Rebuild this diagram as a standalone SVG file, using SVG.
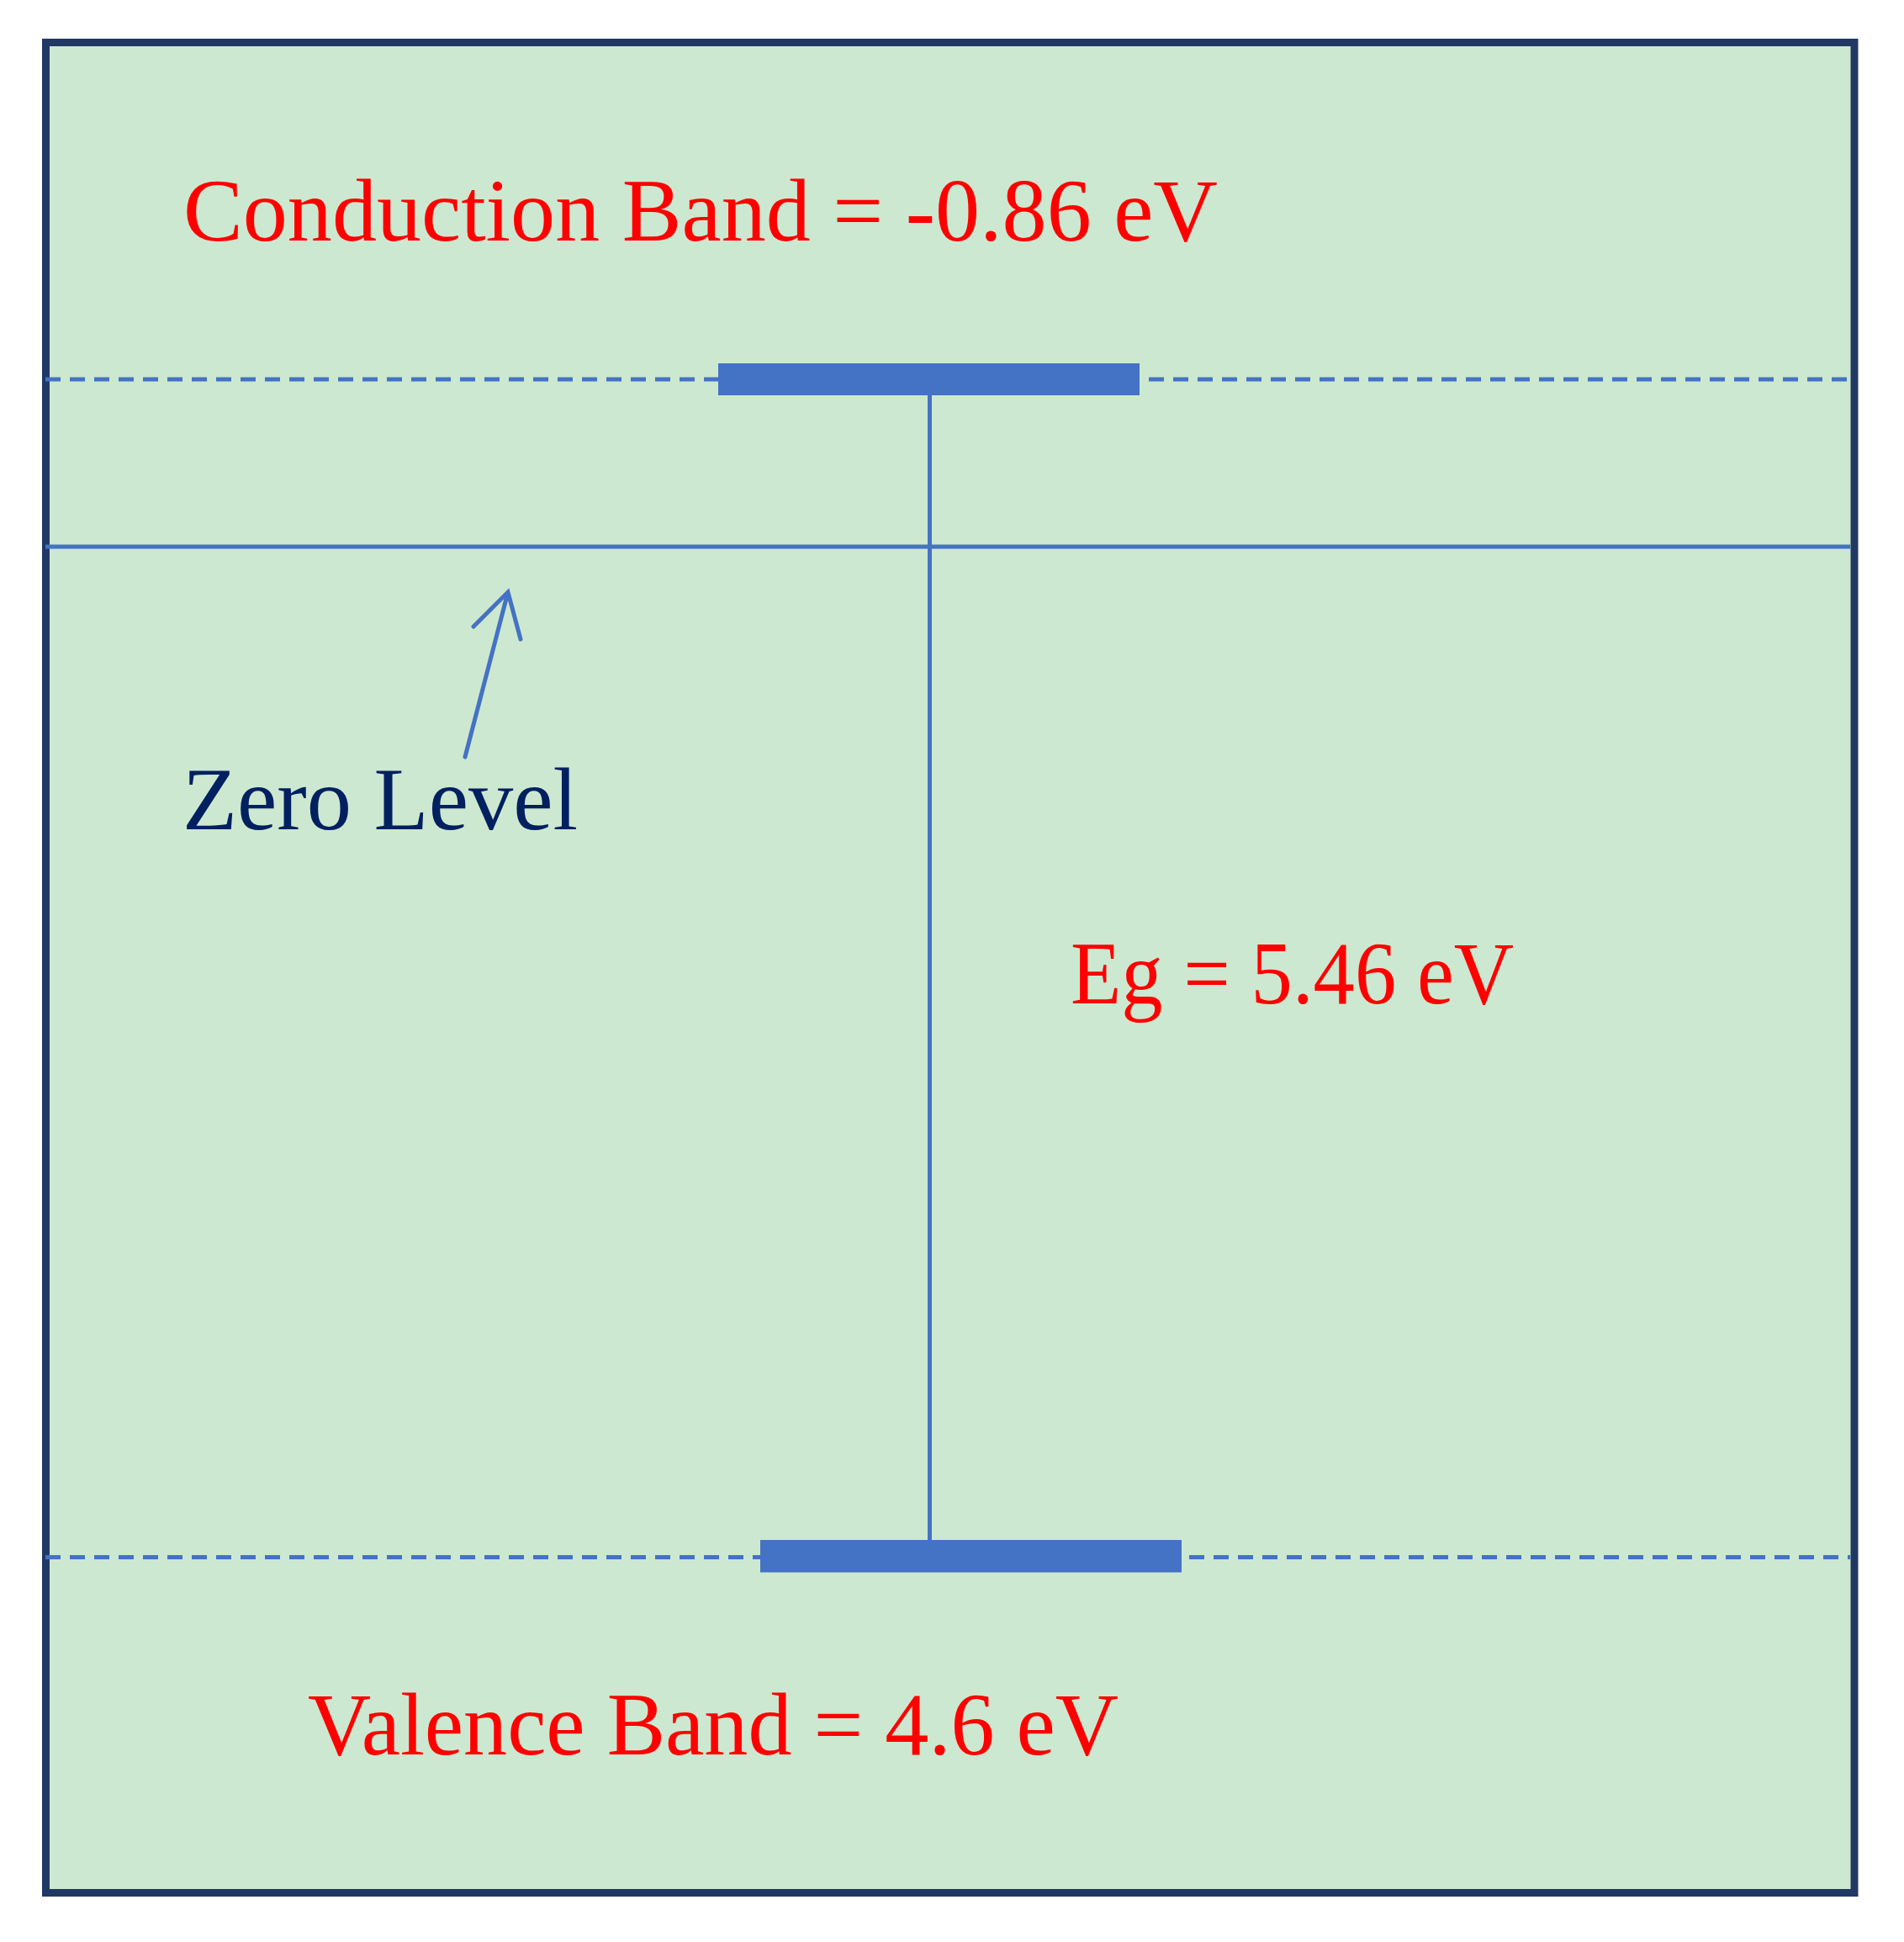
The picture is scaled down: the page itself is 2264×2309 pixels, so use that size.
<svg xmlns="http://www.w3.org/2000/svg" width="2264" height="2309" viewBox="0 0 2264 2309">
<style>
.lbl{font-family:"Liberation Serif","Times New Roman",serif;font-size:105px}
.red{fill:#FF0000}
.navy{fill:#002060}
.ln{stroke:#4472C4;stroke-width:5;fill:none}
.dash{stroke:#4472C4;stroke-width:5;stroke-dasharray:18 11;fill:none}
.bar{fill:#4472C4}
</style>
<rect width="2264" height="2309" fill="#FFFFFF"/>
<g id="frame">
<rect x="54.5" y="50.5" width="2150.5" height="2200" fill="#CDE8D0" stroke="#203864" stroke-width="9"/>
</g>
<g id="connectors">
<line class="dash" x1="54" y1="451" x2="854" y2="451"/>
<line class="dash" x1="1366" y1="451" x2="2200" y2="451"/>
<line class="dash" x1="54" y1="1851.5" x2="904" y2="1851.5"/>
<line class="dash" x1="1414" y1="1851.5" x2="2200" y2="1851.5"/>
<line class="ln" x1="54" y1="650" x2="2200" y2="650"/>
<line class="ln" x1="1105.5" y1="470" x2="1105.5" y2="1831"/>
<path class="ln" d="M553 900 L604 704 M563 745 L604 704 L619 760" stroke-width="4.5" stroke-linecap="round" stroke-linejoin="miter"/>
</g>
<g id="conduction-band">
<rect class="bar" x="854" y="432" width="501" height="38"/>
<text class="lbl red" x="218" y="286" textLength="1230" lengthAdjust="spacingAndGlyphs">Conduction Band = -0.86 eV</text>
</g>
<g id="valence-band">
<rect class="bar" x="904" y="1831" width="501" height="38.5"/>
<text class="lbl red" x="366" y="2086" textLength="964" lengthAdjust="spacingAndGlyphs">Valence Band = 4.6 eV</text>
</g>
<g id="zero-level">
<text class="lbl navy" x="217" y="986" textLength="470" lengthAdjust="spacingAndGlyphs">Zero Level</text>
</g>
<g id="band-gap">
<text class="lbl red" x="1273" y="1193" textLength="527" lengthAdjust="spacingAndGlyphs">Eg = 5.46 eV</text>
</g>
</svg>
